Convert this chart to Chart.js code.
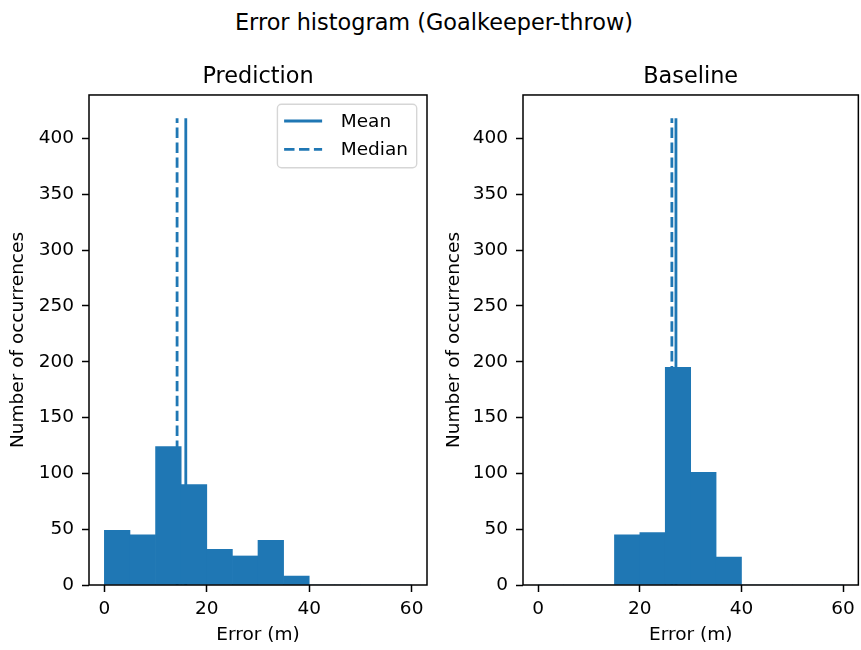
<!DOCTYPE html>
<html>
<head>
<meta charset="utf-8">
<script src="https://cdn.jsdelivr.net/npm/chart.js@4/dist/chart.umd.min.js"></script>
<style>
    html, body { margin: 0; padding: 0; background: #fff; }
    #figure { position: relative; width: 861px; height: 650px; overflow: hidden; }
    #suptitle {
        position: absolute; left: 0; top: 9px; width: 868px;
        text-align: center; font-family: 'DejaVu Sans', sans-serif;
        font-size: 22.4px; line-height: 26px; color: #000;
    }
    .panel { position: absolute; top: 0; height: 650px; }
</style>
</head>
<body>
<div id="figure">
    <div id="suptitle">Error histogram (Goalkeeper-throw)</div>
    <div class="panel" style="left:0; width:430px;"><canvas id="predChart"></canvas></div>
    <div class="panel" style="left:430px; width:431px;"><canvas id="baseChart"></canvas></div>
</div>
<script>
// 误差直方图：分箱边界与各箱计数
const binEdges = [0, 5, 10, 15, 20, 25, 30, 35, 40, 45, 50, 55, 60];
const predictionCounts = [49, 45, 124, 90, 32, 26, 40, 8, 0, 0, 0, 0];
const baselineCounts = [0, 0, 0, 45, 47, 195, 101, 25, 0, 0, 0, 0];

// 均值 / 中位数竖线
const predictionMean = 15.9;
const predictionMedian = 14.2;
const baselineMean = 27.1;
const baselineMedian = 26.3;
const markerTop = 418;

const xTicks = [0, 20, 40, 60];
const yTicks = [0, 50, 100, 150, 200, 250, 300, 350, 400];

const BLUE = '#1f77b4';
const FONT = "'DejaVu Sans', sans-serif";

function binData(counts) {
    return counts.map((c, i) => ({ x: (binEdges[i] + binEdges[i + 1]) / 2, y: c }));
}

// ========== 坐标轴外框 + 图例 ==========
const frameBox = {
    id: 'frameBox',
    afterDatasetsDraw(chart) {
        const { ctx, chartArea: a } = chart;
        ctx.save();
        ctx.strokeStyle = '#000';
        ctx.lineWidth = 1.5;
        ctx.strokeRect(a.left, a.top, a.right - a.left, a.bottom - a.top);
        ctx.restore();
    }
};

const boxLegend = {
    id: 'boxLegend',
    afterDraw(chart, args, opts) {
        if (!opts.show) return;
        const { ctx, chartArea: a } = chart;
        const items = chart.data.datasets.filter(d => d.type === 'line');
        ctx.save();
        ctx.font = `18.5px ${FONT}`;
        const textW = Math.max(...items.map(d => ctx.measureText(d.label).width));
        const w = 63 + textW + 9;
        const h = 63.5;
        const x0 = a.right - 10.3 - w;
        const y0 = a.top + 9.3;

        ctx.fillStyle = 'rgba(255,255,255,0.8)';
        ctx.strokeStyle = '#d6d6d6';
        ctx.lineWidth = 1.4;
        ctx.beginPath();
        ctx.roundRect(x0, y0, w, h, 4);
        ctx.fill();
        ctx.stroke();

        items.forEach((d, i) => {
            const cy = y0 + 16.7 + i * 28.3;
            ctx.strokeStyle = d.borderColor;
            ctx.lineWidth = d.borderWidth;
            ctx.setLineDash(d.borderDash || []);
            ctx.beginPath();
            ctx.moveTo(x0 + 6.7, cy);
            ctx.lineTo(x0 + 44.7, cy);
            ctx.stroke();
            ctx.setLineDash([]);
            ctx.fillStyle = '#000';
            ctx.textBaseline = 'middle';
            ctx.fillText(d.label, x0 + 63.3, cy + 1);
        });
        ctx.restore();
    }
};

function makeHistogram(canvasId, title, counts, mean, median, yAxisWidth, yTitlePad, padRight, showLegend) {
    const ctx = document.getElementById(canvasId).getContext('2d');
    return new Chart(ctx, {
        type: 'bar',
        data: {
            datasets: [
                {
                    label: 'Count',
                    data: binData(counts),
                    backgroundColor: BLUE,
                    borderWidth: 0,
                    barPercentage: 1,
                    categoryPercentage: 1,
                    order: 0
                },
                {
                    type: 'line',
                    label: 'Mean',
                    data: [{ x: mean, y: 0 }, { x: mean, y: markerTop }],
                    borderColor: BLUE,
                    borderWidth: 2.8,
                    pointRadius: 0,
                    fill: false,
                    order: 1
                },
                {
                    type: 'line',
                    label: 'Median',
                    data: [{ x: median, y: 0 }, { x: median, y: markerTop }],
                    borderColor: BLUE,
                    borderWidth: 2.8,
                    borderDash: [10.4, 4.5],
                    pointRadius: 0,
                    fill: false,
                    order: 2
                }
            ]
        },
        options: {
            responsive: true,
            maintainAspectRatio: false,
            animation: false,
            layout: { padding: { left: 0, right: padRight, top: 0, bottom: 0 } },
            scales: {
                x: {
                    type: 'linear',
                    min: -3,
                    max: 63,
                    offset: false,
                    afterFit(scale) { scale.height = 65; },
                    afterBuildTicks(scale) { scale.ticks = xTicks.map(v => ({ value: v })); },
                    grid: { offset: false, drawOnChartArea: false, drawTicks: true, tickLength: 7, tickColor: '#000', tickWidth: 1.5 },
                    border: { display: false },
                    ticks: { color: '#000', padding: 6, maxRotation: 0, font: { family: FONT, size: 18.5 } },
                    title: { display: true, text: 'Error (m)', color: '#000', padding: { top: 3, bottom: 3.3 }, font: { family: FONT, size: 18.5 } }
                },
                y: {
                    min: 0,
                    max: markerTop * 1.05,
                    afterFit(scale) { scale.width = yAxisWidth; },
                    afterBuildTicks(scale) { scale.ticks = yTicks.map(v => ({ value: v })); },
                    grid: { drawOnChartArea: false, drawTicks: true, tickLength: 7, tickColor: '#000', tickWidth: 1.5 },
                    border: { display: false },
                    ticks: { color: '#000', padding: 8, font: { family: FONT, size: 18.5 } },
                    title: { display: true, text: 'Number of occurrences', color: '#000', padding: { top: yTitlePad, bottom: 0 }, font: { family: FONT, size: 18.5 } }
                }
            },
            plugins: {
                legend: { display: false },
                tooltip: { enabled: false },
                title: {
                    display: true,
                    text: title,
                    fullSize: false,
                    color: '#000',
                    font: { family: FONT, size: 22.4, weight: 'normal' },
                    padding: { top: 63.5, bottom: 4.6 }
                },
                boxLegend: { show: showLegend }
            }
        },
        plugins: [frameBox, boxLegend]
    });
}

makeHistogram('predChart', 'Prediction', predictionCounts, predictionMean, predictionMedian, 89, 7.4, 3, true);
makeHistogram('baseChart', 'Baseline', baselineCounts, baselineMean, baselineMedian, 93, 13.4, 2, false);
</script>
</body>
</html>
